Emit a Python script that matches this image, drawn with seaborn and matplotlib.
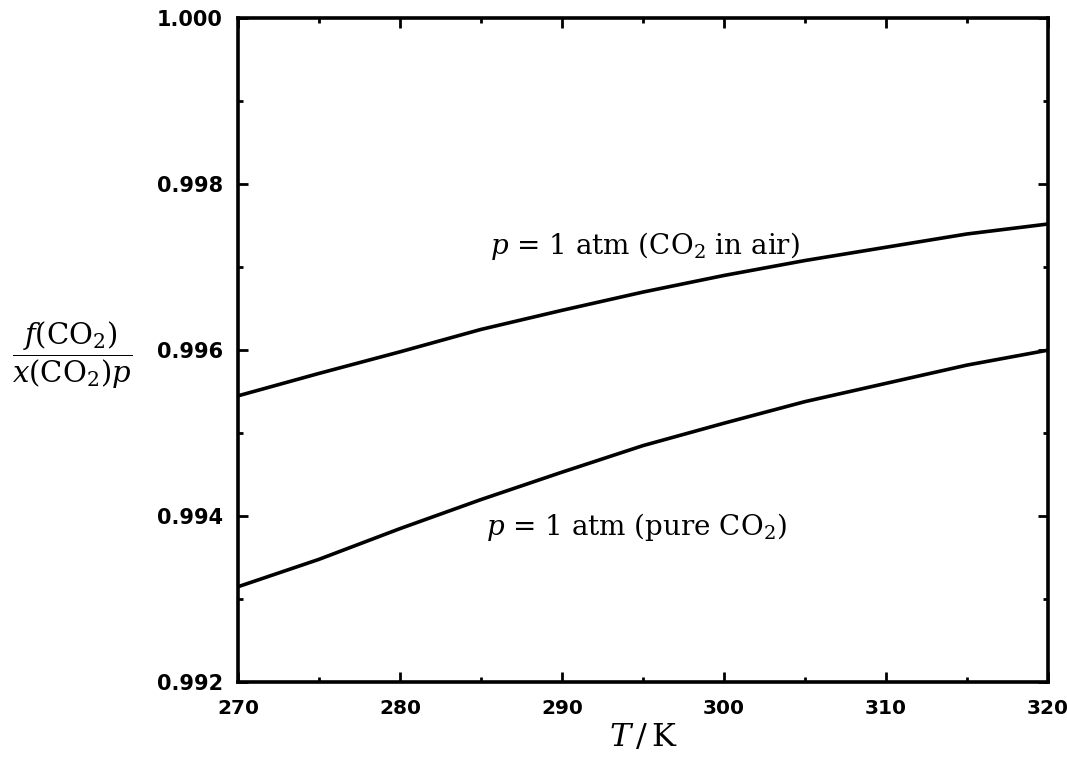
import seaborn as sns
import pandas as pd
import matplotlib.pyplot as plt
from matplotlib.ticker import MultipleLocator

# данные
T = [270, 275, 280, 285, 290, 295, 300, 305, 310, 315, 320]
ratio_air = [0.99545, 0.99572, 0.99598, 0.99625, 0.99648, 0.99670,
             0.99690, 0.99708, 0.99724, 0.99740, 0.99752]
ratio_pure = [0.99315, 0.99348, 0.99385, 0.99420, 0.99453, 0.99485,
              0.99512, 0.99538, 0.99560, 0.99582, 0.99600]
series_names = ['CO2 in air', 'pure CO2']
label_air = r'$p$ = 1 atm (CO$_2$ in air)'
label_pure = r'$p$ = 1 atm (pure CO$_2$)'

df = pd.DataFrame({
    'T': T + T,
    'ratio': ratio_air + ratio_pure,
    'series': [series_names[0]] * len(T) + [series_names[1]] * len(T),
})

sns.set_style('ticks')
plt.rcParams['font.family'] = ['DejaVu Sans']
plt.rcParams['mathtext.fontset'] = 'dejavuserif'
plt.rcParams['text.color'] = 'black'
plt.rcParams['axes.labelcolor'] = 'black'
plt.rcParams['xtick.color'] = 'black'
plt.rcParams['ytick.color'] = 'black'

fig = plt.figure(figsize=(10.67, 7.58), dpi=100)
ax = fig.add_axes([0.223, 0.100, 0.759, 0.876])

sns.lineplot(data=df, x='T', y='ratio', hue='series',
             palette=['black', 'black'], linewidth=2.6, legend=False, ax=ax)

ax.set_xlim(270, 320)
ax.set_ylim(0.992, 1.000)
ax.xaxis.set_major_locator(MultipleLocator(10))
ax.xaxis.set_minor_locator(MultipleLocator(5))
ax.yaxis.set_major_locator(MultipleLocator(0.002))
ax.yaxis.set_minor_locator(MultipleLocator(0.001))
ax.yaxis.set_major_formatter(plt.FormatStrFormatter('%.3f'))

ax.tick_params(which='both', direction='in', top=True, right=True,
               width=2, colors='black')
ax.tick_params(which='major', length=7)
ax.tick_params(which='minor', length=3.5)
ax.tick_params(axis='y', which='major', pad=11)
ax.tick_params(axis='x', which='major', pad=12)
for lbl in ax.get_yticklabels():
    lbl.set_fontsize(15)
    lbl.set_fontweight('bold')
for lbl in ax.get_xticklabels():
    lbl.set_fontsize(14.5)
    lbl.set_fontweight('bold')

for s in ax.spines.values():
    s.set_linewidth(2.6)
    s.set_color('black')

ax.set_xlabel(r'$T\,/\,\mathrm{K}$', fontsize=23, va='center')
ax.xaxis.set_label_coords(0.5, -0.084)
ax.set_ylabel(r'$\dfrac{f(\mathrm{CO_2})}{x(\mathrm{CO_2})p}$', fontsize=21,
              rotation=0, ha='center', va='center')
ax.yaxis.set_label_coords(-0.205, 0.492)

txt_font = dict(family='DejaVu Serif', fontsize=20, ha='center', va='center',
                color='black')
ax.text(295.1, 0.99725, label_air, **txt_font)
ax.text(294.6, 0.99387, label_pure, **txt_font)

fig.savefig('out.png', dpi=100)
